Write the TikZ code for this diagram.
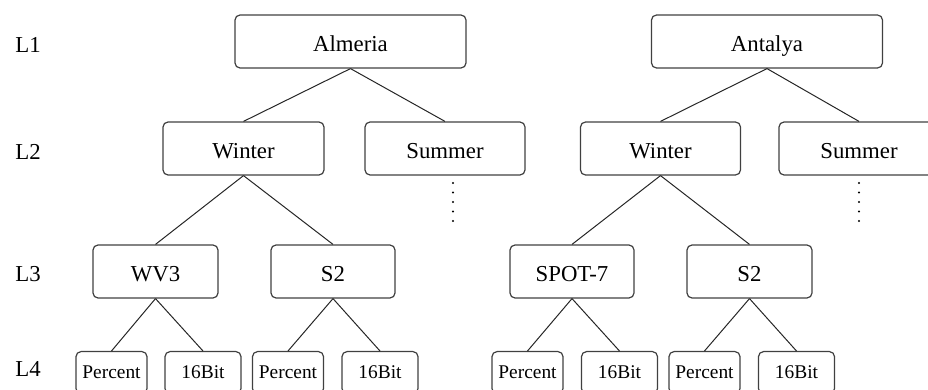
\documentclass[tikz,border=0pt]{standalone}
\usepackage{fontspec}
\setmainfont{Liberation Serif}
\usetikzlibrary{arrows}

\tikzset{
  box/.style={draw=black!75, line width=0.6pt, rounded corners=2.5pt, minimum height=26.5pt, inner sep=0pt, text height=10.5pt, text depth=0pt, font=\fontsize{11.4}{13}\selectfont},
  leaf/.style={box, minimum height=21pt, text height=6.4pt, font=\fontsize{9.7}{11}\selectfont},
  lvl/.style={anchor=west, inner sep=0pt, font=\fontsize{11.4}{13}\selectfont},
  link/.style={-, black!85, line width=0.5pt}
}

\begin{document}
\begin{tikzpicture}[x=0.5pt,y=-0.5pt]
  \useasboundingbox (0,0) rectangle (928,390);
  \clip (0,0) rectangle (928,390);

  % levels
  \node[lvl] (L1) at (15,45) {L1};
  \node[lvl] (L2) at (15,152) {L2};
  \node[lvl] (L3) at (15,274.5) {L3};
  \node[lvl] (L4) at (15,369) {L4};

  % first tree
  \node[box, minimum width=115.5pt] (Almeria) at (350.5,41.5) {Almeria};
  \node[box, minimum width=80.5pt] (WinterA) at (243.5,148.5) {Winter};
  \node[box, minimum width=80pt] (SummerA) at (445,148.5) {Summer};
  \node[box, minimum width=62.5pt] (WVA) at (155.5,271.5) {WV3};
  \node[box, minimum width=62pt] (SA) at (333,271.5) {S2};
  \node[leaf, minimum width=35.5pt] (PercentA) at (111.5,372.6) {Percent};
  \node[leaf, minimum width=38pt] (BitA) at (203,372.6) {16Bit};
  \node[leaf, minimum width=35.5pt] (PercentB) at (288,372.6) {Percent};
  \node[leaf, minimum width=38pt] (BitB) at (380,372.6) {16Bit};

  % second tree
  \node[box, minimum width=115.5pt] (Antalya) at (767,41.5) {Antalya};
  \node[box, minimum width=80pt] (WinterB) at (660.5,148.5) {Winter};
  \node[box, minimum width=80pt] (SummerB) at (859,148.5) {Summer};
  \node[box, minimum width=62pt] (SPOT) at (572,271.5) {SPOT-7};
  \node[box, minimum width=62.5pt] (SB) at (749.5,271.5) {S2};
  \node[leaf, minimum width=35.5pt] (PercentC) at (527.5,372.6) {Percent};
  \node[leaf, minimum width=38pt] (BitC) at (619.5,372.6) {16Bit};
  \node[leaf, minimum width=35.5pt] (PercentD) at (704.5,372.6) {Percent};
  \node[leaf, minimum width=38pt] (BitD) at (796.5,372.6) {16Bit};

  \draw [link] (Almeria.south) -- (WinterA.north);
  \draw [link] (Almeria.south) -- (SummerA.north);
  \draw [link] (WinterA.south) -- (WVA.north);
  \draw [link] (WinterA.south) -- (SA.north);
  \draw [link] (WVA.south) -- (PercentA.north);
  \draw [link] (WVA.south) -- (BitA.north);
  \draw [link] (SA.south) -- (PercentB.north);
  \draw [link] (SA.south) -- (BitB.north);

  \draw [link] (Antalya.south) -- (WinterB.north);
  \draw [link] (Antalya.south) -- (SummerB.north);
  \draw [link] (WinterB.south) -- (SPOT.north);
  \draw [link] (WinterB.south) -- (SB.north);
  \draw [link] (SPOT.south) -- (PercentC.north);
  \draw [link] (SPOT.south) -- (BitC.north);
  \draw [link] (SB.south) -- (PercentD.north);
  \draw [link] (SB.south) -- (BitD.north);

  % dots under Summer
  \foreach \y in {183,192.5,202,211.5,221} {
    \fill (453,\y) circle (0.6pt);
    \fill (859,\y) circle (0.6pt);
  }
\end{tikzpicture}
\end{document}
